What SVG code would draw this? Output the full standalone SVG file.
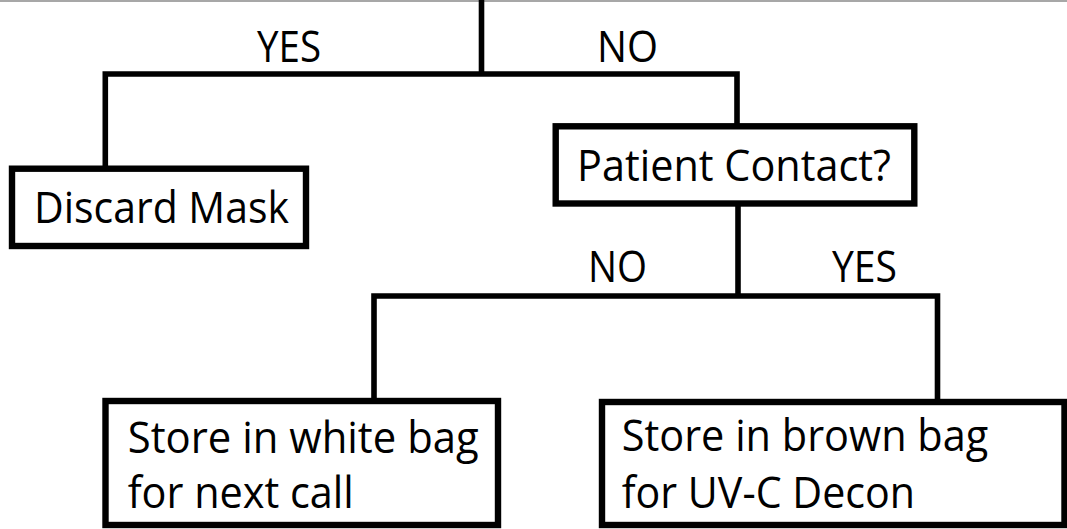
<svg xmlns="http://www.w3.org/2000/svg" width="1067" height="529" viewBox="0 0 1067 529">
<style>
.conn{fill:none;stroke:#000;stroke-width:5.6;stroke-linejoin:miter;stroke-linecap:butt}
.box{fill:#fff;stroke:#000;stroke-width:6.4}
.t{font-family:"Open Sans","Noto Sans","Liberation Sans",sans-serif;font-size:43px;fill:#000}
</style>
<rect x="0" y="0" width="1067" height="529" fill="#fff"/>
<line x1="0" y1="1" x2="1067" y2="1" stroke="#8a8a8a" stroke-width="1.6"/>
<g id="connectors">
<path class="conn" d="M481.5,0 V74"/>
<path class="conn" d="M105.3,168.7 V74 H737 V126"/>
<path class="conn" d="M738,203.5 V296"/>
<path class="conn" d="M374,401 V296 H937.5 V402"/>
</g>
<g id="labels">
<text class="t" x="289" y="61.7" text-anchor="middle" textLength="64" lengthAdjust="spacingAndGlyphs">YES</text>
<text class="t" x="627.5" y="61.7" text-anchor="middle" textLength="61" lengthAdjust="spacingAndGlyphs">NO</text>
<text class="t" x="617.5" y="282" text-anchor="middle" textLength="59" lengthAdjust="spacingAndGlyphs">NO</text>
<text class="t" x="864.5" y="282" text-anchor="middle" textLength="65" lengthAdjust="spacingAndGlyphs">YES</text>
</g>
<g id="discard">
<rect class="box" x="12" y="168.7" width="294" height="77.3"/>
<text class="t" x="34" y="222.7" textLength="255" lengthAdjust="spacingAndGlyphs">Discard Mask</text>
</g>
<g id="patient">
<rect class="box" x="555.7" y="126.3" width="358.6" height="77.2"/>
<text class="t" x="577" y="181" textLength="314" lengthAdjust="spacingAndGlyphs">Patient Contact?</text>
</g>
<g id="white">
<rect class="box" x="105.5" y="401" width="392.5" height="124"/>
<text class="t" x="127.7" y="452.5" textLength="351" lengthAdjust="spacingAndGlyphs">Store in white bag</text>
<text class="t" x="127.7" y="508.3" textLength="226" lengthAdjust="spacingAndGlyphs">for next call</text>
</g>
<g id="brown">
<rect class="box" x="602" y="402" width="462.5" height="123"/>
<text class="t" x="621.7" y="451" textLength="366.6" lengthAdjust="spacingAndGlyphs">Store in brown bag</text>
<text class="t" x="621.7" y="508" textLength="293.3" lengthAdjust="spacingAndGlyphs">for UV-C Decon</text>
</g>
</svg>
